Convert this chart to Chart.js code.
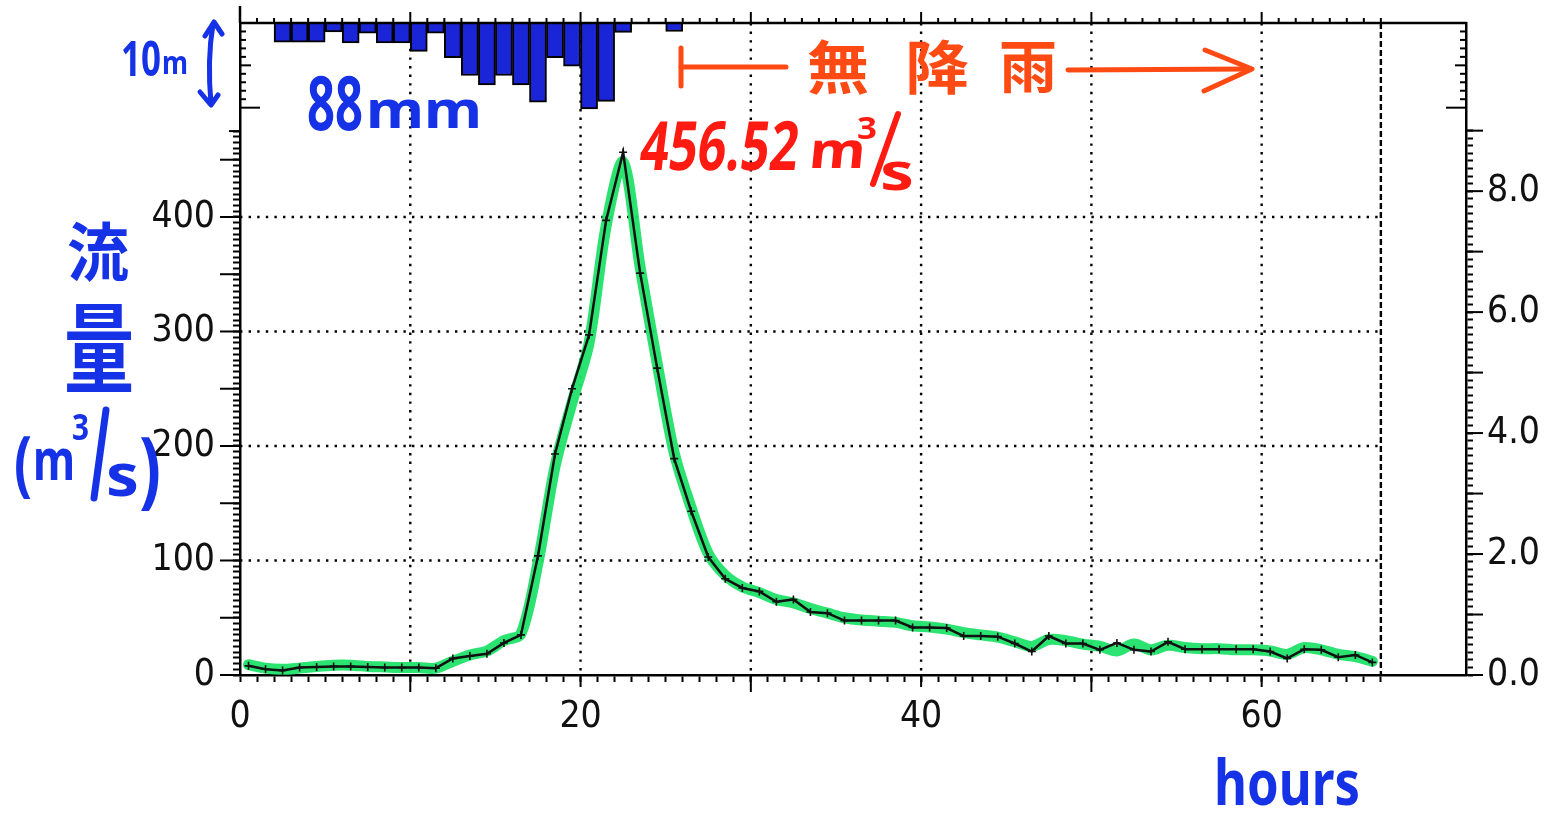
<!DOCTYPE html>
<html>
<head>
<meta charset="utf-8">
<script src="https://cdn.jsdelivr.net/npm/chart.js@4"></script>
<style>
  html, body { margin: 0; padding: 0; background: #fff; }
  canvas { display: block; }
</style>
</head>
<body>
<canvas id="hydro" width="1557" height="815"></canvas>
<script>
// --- DATI ---
// ore (punti a metà ora)
const hours = [0.5, 1.5, 2.5, 3.5, 4.5, 5.5, 6.5, 7.5, 8.5, 9.5,
  10.5, 11.5, 12.5, 13.5, 14.5, 15.5, 16.5, 17.5, 18.5, 19.5,
  20.5, 21.5, 22.5, 23.5, 24.5, 25.5, 26.5, 27.5, 28.5, 29.5,
  30.5, 31.5, 32.5, 33.5, 34.5, 35.5, 36.5, 37.5, 38.5, 39.5,
  40.5, 41.5, 42.5, 43.5, 44.5, 45.5, 46.5, 47.5, 48.5, 49.5,
  50.5, 51.5, 52.5, 53.5, 54.5, 55.5, 56.5, 57.5, 58.5, 59.5,
  60.5, 61.5, 62.5, 63.5, 64.5, 65.5, 66.5];

// portata (m3/s) - linea nera con marker
const flow = [8, 5, 4, 6.5, 7, 7.5, 7.5, 7, 6.5, 6.5,
  6.5, 6, 14.5, 16.5, 18.5, 28, 35, 104, 193, 250,
  297, 397, 456.52, 351, 268, 189, 143, 103, 84, 76,
  73, 64, 66, 55, 54, 47.5, 47.5, 47.5, 47.5, 41.5,
  41.5, 41, 34, 34, 33.5, 27.5, 20.5, 34, 27.5, 27.5,
  22, 28, 22, 20.5, 29, 22.5, 22.5, 22.5, 22.5, 22.5,
  20.5, 14.5, 22.5, 22, 15.5, 17.5, 11];

// evidenziatore verde (tracciato a mano)
const flowGreen = [9, 6, 5, 6, 7.5, 8.5, 8.5, 7.5, 7, 6.5,
  6.5, 6, 12, 17.5, 21, 30, 36, 98, 182, 238,
  290, 392, 448, 356, 272, 194, 146, 106, 87, 77,
  72, 66, 63, 58, 54, 50, 48, 47, 46, 43,
  42, 40, 37, 35, 33, 29, 25, 31, 30, 27,
  25, 21, 27, 22, 26, 24, 23, 23, 22, 22,
  21, 18, 24, 22, 18, 16, 12];

// pioggia oraria (mm), centro di ogni ora
const rainHours = [2.5, 3.5, 4.5, 5.5, 6.5, 7.5, 8.5, 9.5, 10.5, 11.5,
  12.5, 13.5, 14.5, 15.5, 16.5, 17.5, 18.5, 19.5, 20.5, 21.5, 22.5, 25.5];
const rainMm = [2.25, 2.25, 2.25, 1.05, 2.35, 1.2, 2.35, 2.35, 3.35, 1.2,
  4.1, 6.2, 7.3, 6.2, 7.3, 9.35, 4.1, 5.1, 10.15, 9.25, 1.1, 1.0];

// etichette assi
const xLabels = [0, 20, 40, 60];
const flowLabels = [0, 100, 200, 300, 400];
const levelLabels = [0, 2, 4, 6, 8];

const TICK_FONT = "'DejaVu Sans Condensed', 'Liberation Sans Narrow', 'DejaVu Sans', sans-serif";
const HAND_FONT = "'Noto Sans', 'DejaVu Sans', sans-serif";
const CJK_FONT = "'Noto Sans CJK JP', 'Noto Sans CJK TC', sans-serif";
const BLUE = '#1532e6';
const RED = '#ff1a12';
const ORANGE = '#ff4a14';
const NONE = 'rgba(0,0,0,0)';

function seg(ctx, x1, y1, x2, y2) {
    ctx.beginPath();
    ctx.moveTo(x1, y1);
    ctx.lineTo(x2, y2);
    ctx.stroke();
}

// testo "a mano": scala orizzontale per avere la larghezza voluta
function hand(ctx, txt, x, y, size, color, width, o = {}) {
    ctx.save();
    ctx.font = `${o.weight || 'bold'} ${size}px ${o.family || HAND_FONT}`;
    ctx.textBaseline = o.baseline || 'alphabetic';
    ctx.textAlign = o.align || 'left';
    const m = ctx.measureText(txt).width;
    ctx.translate(x, y);
    if (o.skew) ctx.transform(1, 0, -o.skew, 1, 0, 0);
    ctx.scale(width ? width / m : 1, o.sy || 1);
    ctx.fillStyle = color;
    ctx.fillText(txt, 0, 0);
    ctx.restore();
}

// niente padding extra per le etichette: l'area del grafico resta fissa
function noPad(s) {
    s.paddingTop = 0;
    s.paddingBottom = 0;
    s.paddingLeft = 0;
    s.paddingRight = 0;
}

const decor = {
    id: 'decor',
    beforeDatasetsDraw(chart) {
        const { ctx, chartArea: a, scales } = chart;
        const x = scales.x, y = scales.y;
        ctx.save();
        ctx.strokeStyle = '#000';
        ctx.lineWidth = 2.4;
        ctx.setLineDash([2.4, 6.2]);
        [10, 20, 30, 40, 50, 60].forEach(h => {
            const px = x.getPixelForValue(h);
            seg(ctx, px, a.top, px, a.bottom);
        });
        [100, 200, 300, 400].forEach(q => {
            const py = y.getPixelForValue(q);
            seg(ctx, x.getPixelForValue(0), py, x.getPixelForValue(67), py);
        });
        ctx.setLineDash([6, 3]);
        const pe = x.getPixelForValue(67);
        seg(ctx, pe, a.top, pe, a.bottom);
        ctx.restore();
    },
    afterDraw(chart) {
        const { ctx, chartArea: a, scales } = chart;
        const x = scales.x, y = scales.y, yL = scales.yLevel, yR = scales.yRain;
        ctx.save();
        ctx.strokeStyle = '#000';
        ctx.lineWidth = 2.5;
        // bordo superiore e prolungamento asse sinistro
        seg(ctx, a.left - 1, a.top, a.right + 1, a.top);
        seg(ctx, a.left, a.top, a.left, 6);
        ctx.lineWidth = 2;
        // tacche superiori (verso l'alto)
        for (let h = 0; h <= 67; h++) {
            const px = x.getPixelForValue(h);
            seg(ctx, px, a.top, px, a.top - (h % 10 === 0 ? 11 : 5));
        }
        // tacche lunghe in basso
        for (let h = 10; h <= 60; h += 10) {
            const px = x.getPixelForValue(h);
            seg(ctx, px, a.bottom, px, a.bottom + ((h / 10) % 2 ? 17 : 12));
        }
        // tacche lunghe portata
        for (let q = 0; q <= 450; q += 50) {
            const py = y.getPixelForValue(q);
            seg(ctx, a.left, py, a.left - 20, py);
        }
        seg(ctx, a.left, y.getPixelForValue(475), a.left - 11, y.getPixelForValue(475));
        // tacche lunghe asse destro
        for (let v = 0; v <= 9; v++) {
            const py = yL.getPixelForValue(v);
            seg(ctx, a.right, py, a.right + 17, py);
        }
        // scala pioggia (verso l'interno)
        for (let mm = 1; mm <= 10; mm++) {
            const py = yR.getPixelForValue(mm);
            const len = mm === 10 ? 20 : (mm === 5 ? 11 : 6);
            seg(ctx, a.left, py, a.left + len, py);
            seg(ctx, a.right, py, a.right - len, py);
        }
        ctx.restore();

        // --- annotazioni a mano ---
        ctx.save();
        ctx.lineCap = 'round';
        ctx.lineJoin = 'round';
        // 10m con freccia doppia
        hand(ctx, '10', 121, 76, 48, BLUE, 40);
        hand(ctx, 'm', 162, 74, 32, BLUE, 26);
        ctx.strokeStyle = BLUE;
        ctx.lineWidth = 5;
        ctx.beginPath();
        ctx.moveTo(213, 24); ctx.quadraticCurveTo(207, 60, 211, 104); ctx.stroke();
        ctx.beginPath();
        ctx.moveTo(205, 36); ctx.lineTo(214, 22); ctx.lineTo(222, 34); ctx.stroke();
        ctx.beginPath();
        ctx.moveTo(200, 92); ctx.lineTo(211, 105); ctx.lineTo(218, 95); ctx.stroke();
        // 88mm
        hand(ctx, '88', 307, 130, 76, BLUE, 56);
        hand(ctx, 'mm', 366, 128, 52, BLUE, 116);
        // |-- 無 降 雨 --->
        ctx.strokeStyle = ORANGE;
        ctx.lineWidth = 5;
        seg(ctx, 681, 48, 681, 86);
        seg(ctx, 681, 67, 786, 67);
        seg(ctx, 1068, 70, 1250, 69);
        ctx.beginPath();
        ctx.moveTo(1205, 50); ctx.lineTo(1252, 69); ctx.lineTo(1204, 91); ctx.stroke();
        hand(ctx, '無', 838, 67, 58, ORANGE, 62, { family: CJK_FONT, baseline: 'middle', align: 'center' });
        hand(ctx, '降', 937, 67, 58, ORANGE, 64, { family: CJK_FONT, baseline: 'middle', align: 'center' });
        hand(ctx, '雨', 1028, 66, 58, ORANGE, 58, { family: CJK_FONT, baseline: 'middle', align: 'center' });
        // 456.52 m3/s
        hand(ctx, '456.52', 638, 170, 68, RED, 158, { skew: 0.12 });
        hand(ctx, 'm', 808, 168, 50, RED, 56, { skew: 0.1 });
        hand(ctx, '3', 857, 139, 30, RED, 20);
        ctx.strokeStyle = RED;
        ctx.lineWidth = 6;
        seg(ctx, 898, 114, 873, 184);
        hand(ctx, 's', 880, 190, 52, RED, 34);
        // etichetta asse: 流 量 (m3/s)
        hand(ctx, '流', 98, 252, 64, BLUE, 62, { family: CJK_FONT, baseline: 'middle', align: 'center' });
        hand(ctx, '量', 99, 347, 64, BLUE, 70, { family: CJK_FONT, baseline: 'middle', align: 'center', sy: 1.55 });
        hand(ctx, '(', 14, 488, 72, BLUE, 18);
        hand(ctx, 'm', 33, 480, 58, BLUE, 42);
        hand(ctx, '3', 72, 440, 36, BLUE, 17);
        ctx.strokeStyle = BLUE;
        ctx.lineWidth = 7;
        seg(ctx, 106, 410, 94, 498);
        hand(ctx, 's', 106, 496, 60, BLUE, 33);
        hand(ctx, ')', 139, 498, 84, BLUE, 22);
        // hours
        hand(ctx, 'hours', 1214, 805, 62, BLUE, 146);
        ctx.restore();
    }
};

const tickFont = { family: TICK_FONT, size: 37, weight: 'condensed' };

new Chart(document.getElementById('hydro'), {
    type: 'line',
    data: {
        datasets: [
            {
                type: 'line',
                label: 'portata',
                data: hours.map((h, i) => ({ x: h, y: flow[i] })),
                xAxisID: 'x', yAxisID: 'y',
                borderColor: '#111',
                borderWidth: 2.5,
                pointStyle: 'cross',
                pointRadius: 4,
                pointBorderWidth: 1.6,
                pointBorderColor: '#111',
                tension: 0,
                order: 1
            },
            {
                type: 'line',
                label: 'evidenziatore',
                data: hours.map((h, i) => ({ x: h, y: flowGreen[i] })),
                xAxisID: 'x', yAxisID: 'y',
                borderColor: 'rgba(32, 226, 104, 0.95)',
                borderWidth: 11,
                borderJoinStyle: 'round',
                borderCapStyle: 'round',
                pointRadius: 0,
                tension: 0.3,
                order: 2
            },
            {
                type: 'bar',
                label: 'pioggia',
                data: rainHours.map((h, i) => ({ x: h, y: rainMm[i] })),
                xAxisID: 'x', yAxisID: 'yRain',
                backgroundColor: '#1b25d8',
                borderColor: '#000',
                borderWidth: 2,
                barPercentage: 1,
                categoryPercentage: 1,
                order: 3
            }
        ]
    },
    options: {
        responsive: false,
        animation: false,
        devicePixelRatio: 1,
        layout: { padding: { top: 23, left: 0, right: 0, bottom: 0 } },
        plugins: { legend: { display: false }, tooltip: { enabled: false } },
        scales: {
            x: {
                type: 'linear', position: 'bottom', min: 0, max: 72, offset: false,
                afterFit: s => { s.height = 140; noPad(s); },
                ticks: {
                    stepSize: 1, autoSkip: false, maxRotation: 0, padding: 13,
                    color: '#111', font: tickFont,
                    callback: v => xLabels.includes(v) ? v : ''
                },
                grid: {
                    drawOnChartArea: false, offset: false, tickLength: 7, tickWidth: 2,
                    tickColor: c => c.tick && c.tick.value <= 67 ? '#000' : NONE
                },
                border: { color: '#000', width: 2.5 }
            },
            y: {
                type: 'linear', position: 'left', min: 0, max: 569.4,
                afterFit: s => { s.width = 240; noPad(s); },
                ticks: {
                    stepSize: 5, autoSkip: false, padding: 18,
                    color: '#111', font: tickFont,
                    callback: v => flowLabels.includes(v) ? v : ''
                },
                grid: {
                    drawOnChartArea: false, tickLength: 7, tickWidth: 2,
                    tickColor: c => c.tick && c.tick.value <= 475 ? '#000' : NONE
                },
                border: { color: '#000', width: 2.5 }
            },
            yLevel: {
                type: 'linear', position: 'right', min: 0, max: 10.78,
                afterFit: s => { s.width = 91; noPad(s); },
                ticks: {
                    stepSize: 0.125, autoSkip: false, padding: 14,
                    color: '#111', font: tickFont,
                    callback: v => levelLabels.includes(v) ? v.toFixed(1) : ''
                },
                grid: {
                    drawOnChartArea: false, tickLength: 7, tickWidth: 2,
                    tickColor: c => c.tick && c.tick.value <= 9.001 ? '#000' : NONE
                },
                border: { color: '#000', width: 2.5 }
            },
            yRain: {
                type: 'linear', display: false, reverse: true, min: 0, max: 77
            }
        }
    },
    plugins: [decor]
});
</script>
</body>
</html>
